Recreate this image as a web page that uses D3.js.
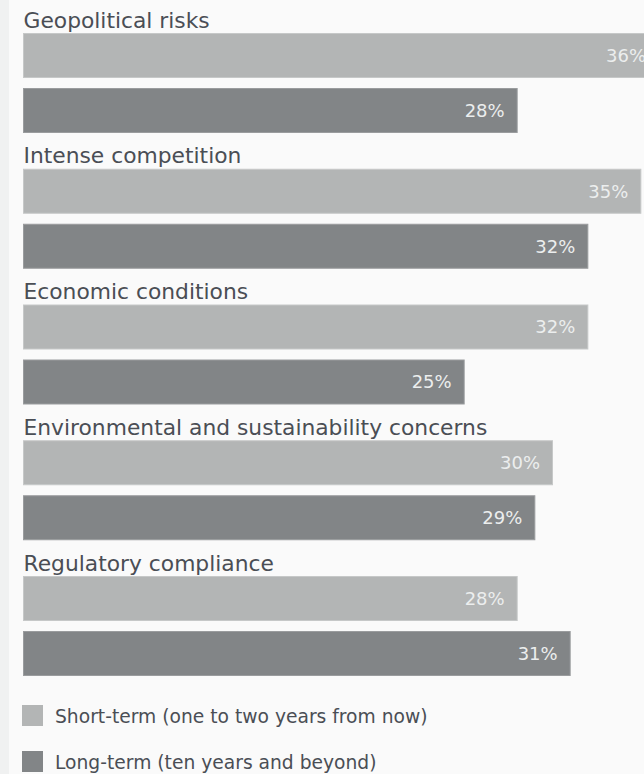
<!DOCTYPE html>
<html>
<head>
  <meta charset="utf-8">
  <script src="https://d3js.org/d3.v7.min.js"></script>
  <style>
    body { margin: 0; background: #fafafa; }
    svg { display: block; }
  </style>
</head>
<body>
<script>
  // chart values
  var categories = ["Geopolitical risks", "Intense competition", "Economic conditions",
                    "Environmental and sustainability concerns", "Regulatory compliance"];
  var seriesNames = ["Short-term (one to two years from now)", "Long-term (ten years and beyond)"];
  var shortTerm = [36, 35, 32, 30, 28];
  var longTerm = [28, 32, 25, 29, 31];
  var seriesKeys = ["short", "long"];

  var width = 644, height = 774;
  var font = "'DejaVu Sans', sans-serif";
  var colors = { short: "#b3b5b5", long: "#828587" };
  var strokes = { short: "#c6c8c8", long: "#9a9c9e" };

  var svg = d3.select("body").append("svg")
      .attr("width", width)
      .attr("height", height);

  // light strip at the left edge
  svg.append("rect")
    .attr("x", 0).attr("y", 0)
    .attr("width", 9).attr("height", height)
    .style("fill", "#f0f1f1");

  var x = d3.scaleLinear().domain([0, 36]).range([23, 659]);

  var y = d3.scaleBand()
      .domain(categories)
      .range([12, 12 + 5 * 135.75]);

  var inner = d3.scaleBand()
      .domain(seriesKeys)
      .range([21, 121])
      .paddingInner(10 / 55);

  var rows = categories.map(function (c, i) {
    return { name: c, short: shortTerm[i], long: longTerm[i] };
  });

  var group = svg.selectAll("g.cat")
    .data(rows)
    .enter()
    .append("g")
      .attr("class", "cat")
      .attr("transform", function (d) { return "translate(0," + y(d.name) + ")"; });

  group.append("text")
    .attr("x", 23.5)
    .attr("y", 15.5)
    .style("font-family", font)
    .style("font-size", "21.8px")
    .style("fill", "#4a4e55")
    .text(function (d) { return d.name; });

  seriesKeys.forEach(function (k) {
    group.append("rect")
      .attr("x", x(0) + 0.5)
      .attr("y", inner(k) + 0.5)
      .attr("width", function (d) { return x(d[k]) - x(0) - 1; })
      .attr("height", inner.bandwidth() - 1)
      .style("fill", colors[k])
      .style("stroke", strokes[k])
      .style("stroke-width", 1);

    group.append("text")
      .attr("x", function (d) { return x(d[k]) - 13; })
      .attr("y", inner(k) + inner.bandwidth() / 2)
      .attr("dy", "0.36em")
      .attr("text-anchor", "end")
      .style("font-family", font)
      .style("font-size", "18px")
      .style("fill", "#eceeee")
      .text(function (d) { return d[k] + "%"; });
  });

  // legend
  var legend = svg.selectAll("g.legend")
    .data(seriesKeys)
    .enter()
    .append("g")
      .attr("class", "legend")
      .attr("transform", function (d, i) { return "translate(22," + (705 + i * 46) + ")"; });

  legend.append("rect")
    .attr("width", 21)
    .attr("height", 21)
    .style("fill", function (d) { return colors[d]; });

  legend.append("text")
    .attr("x", 33)
    .attr("y", 18)
    .style("font-family", font)
    .style("font-size", "18.7px")
    .style("fill", "#4a4e55")
    .text(function (d, i) { return seriesNames[i]; });
</script>
</body>
</html>
